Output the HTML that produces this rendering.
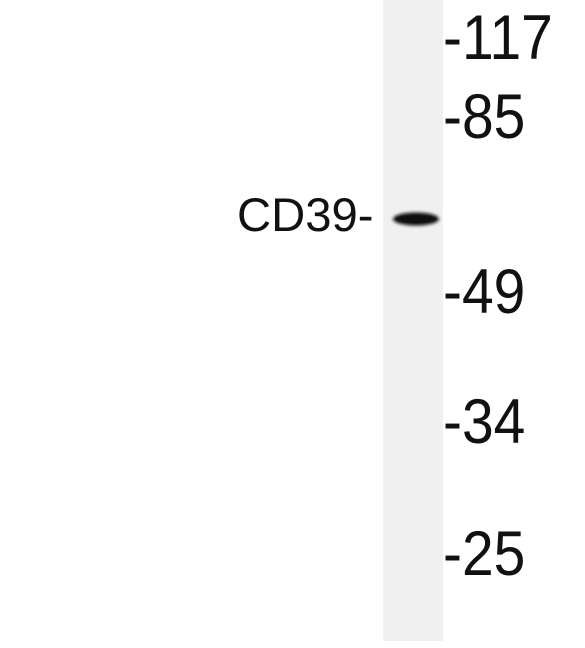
<!DOCTYPE html>
<html><head><meta charset="utf-8"><style>
html,body{margin:0;padding:0;background:#fff;}
svg{display:block;}
text{font-family:"Liberation Sans",Arial,sans-serif;fill:#111;}
</style></head><body>
<svg width="585" height="648" viewBox="0 0 585 648">
<defs>
<filter id="blur" x="-20%" y="-100%" width="140%" height="300%"><feGaussianBlur stdDeviation="1.5"/></filter>
</defs>
<rect x="0" y="0" width="585" height="648" fill="#fff"/>
<rect x="383" y="0" width="60" height="641" fill="#f0f0f0"/>
<ellipse cx="416" cy="219" rx="23" ry="6.5" fill="#111" filter="url(#blur)"/>
<text transform="translate(443,59) scale(1,1.1)" font-size="57">-117</text>
<text transform="translate(443,138) scale(1,1.1)" font-size="57">-85</text>
<text transform="translate(443,313) scale(1,1.1)" font-size="57">-49</text>
<text transform="translate(443,443) scale(1,1.1)" font-size="57">-34</text>
<text transform="translate(443,575) scale(1,1.1)" font-size="57">-25</text>
<text transform="translate(237,231) scale(1.05,1.05)" font-size="45">CD39-</text>
</svg>
</body></html>
